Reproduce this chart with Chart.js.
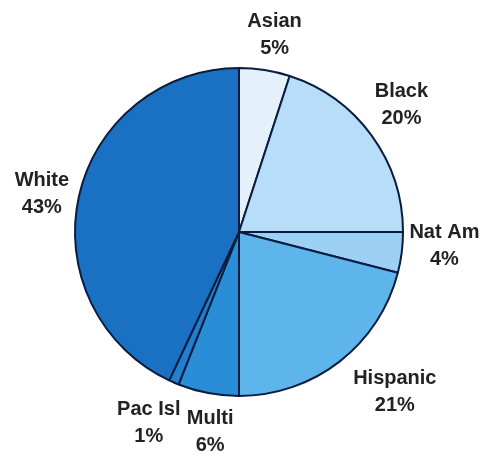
<!DOCTYPE html>
<html>
<head>
<meta charset="utf-8">
<script src="https://cdn.jsdelivr.net/npm/chart.js@4/dist/chart.umd.min.js"></script>
<style>
  html, body { margin: 0; padding: 0; background: #fff; }
  #wrap { width: 485px; height: 455px; }
</style>
</head>
<body>
<div id="wrap"><canvas id="pieChart" width="485" height="455"></canvas></div>
<script>
// === enrollment by race/ethnicity ===
const groups = ["Asian", "Black", "Nat Am", "Hispanic", "Multi", "Pac Isl", "White"];
const shares = [5, 20, 4, 21, 6, 1, 43];

const sliceColors = ["#e4f0fb", "#b8ddf8", "#9cd0f4", "#5db5eb", "#2a8dd7", "#2080cf", "#1a71c3"];
// small per-label nudges so text sits clear of the rim
const labelNudge = [[4, 2], [-1, -8], [5, -11], [32, 0], [9, 2], [-10, 6], [0, 6]];

const outsideLabels = {
  id: "outsideLabels",
  afterDatasetsDraw(chart) {
    const ctx = chart.ctx;
    const arcs = chart.getDatasetMeta(0).data;
    ctx.save();
    ctx.font = "bold 20px 'Liberation Sans', Arial, sans-serif";
    ctx.fillStyle = "#222";
    ctx.textAlign = "center";
    ctx.textBaseline = "middle";
    arcs.forEach((arc, i) => {
      const { x, y, startAngle, endAngle, outerRadius } = arc.getProps(["x", "y", "startAngle", "endAngle", "outerRadius"], true);
      const mid = (startAngle + endAngle) / 2;
      const dist = outerRadius + 38;
      const lx = x + Math.cos(mid) * dist + labelNudge[i][0];
      const ly = y + Math.sin(mid) * dist + labelNudge[i][1];
      ctx.fillText(groups[i], lx, ly - 13.5);
      ctx.fillText(shares[i] + "%", lx, ly + 13.5);
    });
    ctx.restore();
  }
};

new Chart(document.getElementById("pieChart"), {
  type: "pie",
  data: {
    labels: groups,
    datasets: [{
      data: shares,
      backgroundColor: sliceColors,
      borderColor: "#0b1c3e",
      borderWidth: 2,
      hoverBorderWidth: 2,
      hoverOffset: 0,
      offset: 0
    }]
  },
  options: {
    responsive: false,
    animation: false,
    events: [],
    layout: { padding: { left: 74, right: 81, top: 67, bottom: 58 } },
    plugins: {
      legend: { display: false },
      tooltip: { enabled: false }
    }
  },
  plugins: [outsideLabels]
});
</script>
</body>
</html>
